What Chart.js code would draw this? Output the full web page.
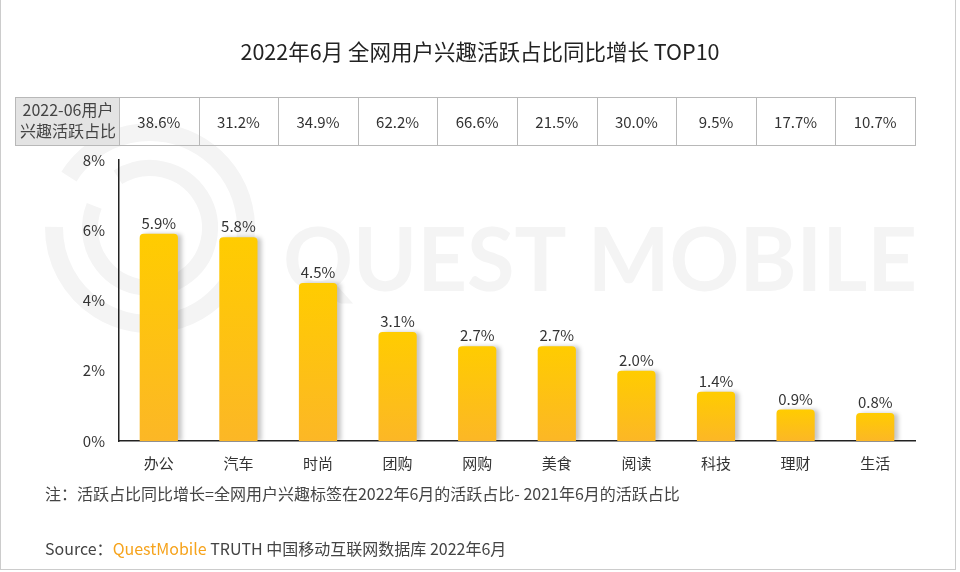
<!DOCTYPE html>
<html>
<head>
<meta charset="utf-8">
<script src="https://cdn.jsdelivr.net/npm/chart.js@4.4.0/dist/chart.umd.min.js"></script>
<style>
  body { margin: 0; background: #fff; font-family: "Noto Sans CJK SC", sans-serif; }
  #page { position: relative; width: 960px; height: 572px; overflow: hidden; }
  #chart { position: absolute; left: 0; top: 0; }
  #frame { position: absolute; left: 0; top: -2px; width: 954px; height: 570px;
           border: 1px solid #cccccc; pointer-events: none; }
  .txt { position: absolute; color: #333; white-space: nowrap; }
  #title { left: 0; width: 960px; top: 35px; text-align: center; font-size: 21.5px; color: #222; }
  #note { left: 45px; top: 481px; font-size: 16px; color: #444; }
  #source { left: 45px; top: 536px; font-size: 16px; color: #444; }
  #source span { color: #f6a31c; }
</style>
</head>
<body>
<div id="page">
  <canvas id="chart" width="960" height="572"></canvas>
  <div class="txt" id="title">2022年6月 全网用户兴趣活跃占比同比增长 TOP10</div>
  <div class="txt" id="note">注：活跃占比同比增长=全网用户兴趣标签在2022年6月的活跃占比- 2021年6月的活跃占比</div>
  <div class="txt" id="source">Source：<span>QuestMobile</span> TRUTH 中国移动互联网数据库 2022年6月</div>
  <div id="frame"></div>
</div>
<script>
const categories = ['办公', '汽车', '时尚', '团购', '网购', '美食', '阅读', '科技', '理财', '生活'];
const growth = [5.9, 5.8, 4.5, 3.1, 2.7, 2.7, 2.0, 1.4, 0.9, 0.8];
const activeShare = ['38.6%', '31.2%', '34.9%', '62.2%', '66.6%', '21.5%', '30.0%', '9.5%', '17.7%', '10.7%'];
const tableHead = ['2022-06用户', '兴趣活跃占比'];
const yTicks = [0, 2, 4, 6, 8];

const FONT = '"Noto Sans CJK SC", sans-serif';

// background watermark: logo rings + QUEST MOBILE
const watermark = {
    id: 'watermark',
    beforeDraw(chart) {
        const ctx = chart.ctx;
        ctx.save();
        ctx.strokeStyle = '#f4f4f4';
        ctx.lineCap = 'butt';
        ctx.lineWidth = 18;
        ctx.beginPath();
        ctx.arc(150, 228, 96, Math.PI * 1.18, Math.PI * 1.02 + Math.PI * 2 - 0.05);
        ctx.stroke();
        ctx.lineWidth = 16;
        ctx.beginPath();
        ctx.arc(150, 228, 60, Math.PI * 1.32, Math.PI * 1.12 + Math.PI * 2);
        ctx.stroke();

        ctx.fillStyle = '#f4f4f4';
        ctx.font = '700 88px Lato, sans-serif';
        ctx.textBaseline = 'alphabetic';
        const txt = 'QUEST MOBILE';
        const w = ctx.measureText(txt).width;
        ctx.translate(283, 291);
        ctx.scale(634 / w, 1);
        ctx.fillText(txt, 0, 0);
        ctx.restore();
    }
};

// data row table above plot, columns aligned with x scale
const topTable = {
    id: 'topTable',
    afterDraw(chart) {
        const ctx = chart.ctx;
        const area = chart.chartArea;
        const x = chart.scales.x;
        const top = 97, bottom = 145;
        const colW = (area.right - area.left) / categories.length;
        ctx.save();
        ctx.fillStyle = '#e3e3e3';
        ctx.fillRect(15, top, area.left - 15, bottom - top);
        ctx.strokeStyle = '#b8b8b8';
        ctx.lineWidth = 1;
        ctx.strokeRect(15.5, top + 0.5, area.right - 15, bottom - top);
        for (let i = 0; i < categories.length; i++) {
            const xl = Math.round(area.left + i * colW) + 0.5;
            ctx.beginPath();
            ctx.moveTo(xl, top);
            ctx.lineTo(xl, bottom);
            ctx.stroke();
        }
        ctx.fillStyle = '#333';
        ctx.textAlign = 'center';
        ctx.textBaseline = 'middle';
        ctx.font = '15px ' + FONT;
        activeShare.forEach((v, i) => {
            ctx.fillText(v, x.getPixelForValue(i), (top + bottom) / 2 + 1);
        });
        ctx.fillStyle = '#444';
        ctx.font = '16px ' + FONT;
        const cx = (15 + area.left) / 2 + 1;
        ctx.fillText(tableHead[0], cx, top + 13);
        ctx.fillText(tableHead[1], cx, top + 34);
        ctx.restore();
    }
};

// bar shadows and value labels
const barDecor = {
    id: 'barDecor',
    beforeDatasetsDraw(chart) {
        const ctx = chart.ctx;
        ctx.save();
        ctx.shadowColor = 'rgba(0,0,0,0.22)';
        ctx.shadowOffsetX = 4;
        ctx.shadowOffsetY = 0;
        ctx.shadowBlur = 4;
    },
    afterDatasetsDraw(chart) {
        const ctx = chart.ctx;
        ctx.restore();
        ctx.save();
        ctx.fillStyle = '#333';
        ctx.font = '15px ' + FONT;
        ctx.textAlign = 'center';
        ctx.textBaseline = 'bottom';
        chart.getDatasetMeta(0).data.forEach((bar, i) => {
            ctx.fillText(growth[i].toFixed(1) + '%', bar.x, bar.y - 3);
        });
        ctx.restore();
    }
};

new Chart(document.getElementById('chart'), {
    type: 'bar',
    data: {
        labels: categories,
        datasets: [{
            data: growth,
            backgroundColor: function(context) {
                const chart = context.chart;
                const area = chart.chartArea;
                if (!area || !chart.scales.y) return '#ffc800';
                const top = chart.scales.y.getPixelForValue(growth[context.dataIndex]);
                const g = chart.ctx.createLinearGradient(0, top, 0, area.bottom);
                g.addColorStop(0, '#ffcc00');
                g.addColorStop(1, '#fcb726');
                return g;
            },
            borderRadius: 4,
            borderSkipped: 'bottom',
            barPercentage: 0.48,
            categoryPercentage: 1
        }]
    },
    options: {
        responsive: false,
        animation: false,
        layout: { padding: { left: 0, right: 45, top: 160, bottom: 91 } },
        plugins: {
            legend: { display: false },
            tooltip: { enabled: false }
        },
        scales: {
            x: {
                grid: { display: false, drawTicks: false },
                border: { display: true, color: '#222', width: 1.5 },
                ticks: { color: '#333', font: { size: 15, family: FONT }, padding: 13 },
                afterFit: s => { s.height = 40; }
            },
            y: {
                min: 0,
                max: 8,
                afterBuildTicks: s => { s.ticks = yTicks.map(v => ({ value: v })); },
                grid: { display: false, drawTicks: false },
                border: { display: true, color: '#222', width: 1.5 },
                ticks: {
                    color: '#333',
                    font: { size: 15, family: FONT },
                    padding: 14,
                    callback: v => v + '%'
                },
                afterFit: s => { s.width = 119; }
            }
        }
    },
    plugins: [watermark, topTable, barDecor]
});
</script>
</body>
</html>
